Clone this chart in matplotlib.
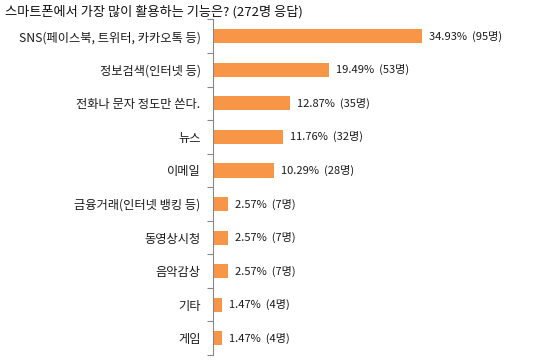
import numpy as np
import matplotlib
matplotlib.use("Agg")
import matplotlib.pyplot as plt

plt.rcParams["font.family"] = ["Noto Sans CJK KR", "DejaVu Sans"]

# survey data
categories = ["SNS(페이스북, 트위터, 카카오톡 등)", "정보검색(인터넷 등)", "전화나 문자 정도만 쓴다.",
              "뉴스", "이메일", "금융거래(인터넷 뱅킹 등)", "동영상시청", "음악감상", "기타", "게임"]
percents = [34.93, 19.49, 12.87, 11.76, 10.29, 2.57, 2.57, 2.57, 1.47, 1.47]
counts = [95, 53, 35, 32, 28, 7, 7, 7, 4, 4]
title = "스마트폰에서 가장 많이 활용하는 기능은? (272명 응답)"

fig = plt.figure(figsize=(5.4, 3.6), dpi=100)
ax = fig.add_axes([213 / 540, 5 / 360, 0.553, 335.5 / 360])

n = len(categories)
y = np.arange(n)
ax.barh(y, percents, height=0.42, color="#F79646")
ax.set_xlim(0, 50)
ax.set_ylim(n - 0.5, -0.5)

for yi, p, c in zip(y, percents, counts):
    ax.annotate(f"{p:.2f}%  ({c}명)", (p, yi), xytext=(5, 0), textcoords="offset points",
                va="center", ha="left", fontsize=8, color="#1a1a1a")

ax.set_yticks(y)
ax.set_yticklabels(categories, fontsize=8.8, color="#1a1a1a")
ax.tick_params(axis="y", which="major", length=0, pad=9)
ax.set_yticks(np.arange(-0.5, n, 1), minor=True)
ax.tick_params(axis="y", which="minor", length=4, color="#888888", width=0.8)
ax.set_xticks([])
for s in ["top", "right", "bottom"]:
    ax.spines[s].set_visible(False)
ax.spines["left"].set_color("#888888")
ax.spines["left"].set_linewidth(0.8)

fig.text(5 / 540, 1 - 12 / 360, title, fontsize=9.5, va="center", ha="left", color="#111111")

fig.savefig("out.png", dpi=100)
